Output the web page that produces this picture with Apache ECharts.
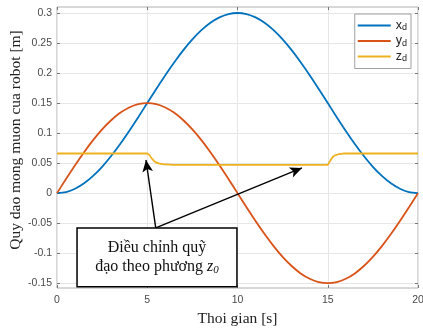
<!DOCTYPE html>
<html><head><meta charset="utf-8">
<script src="https://cdn.jsdelivr.net/npm/echarts@6/dist/echarts.min.js"></script>
<style>html,body{margin:0;padding:0;background:#fff}#c{width:423px;height:329px}</style>
</head><body><div id="c"></div>
<script>
// time samples (s)
const tValues = [0,0.5,1,1.5,2,2.5,3,3.5,4,4.5,5,5.5,6,6.5,7,7.5,8,8.5,9,9.5,10,10.5,11,11.5,12,12.5,13,13.5,14,14.5,15,15.5,16,16.5,17,17.5,18,18.5,19,19.5,20];
const xdValues = [0,0.0018,0.0073,0.0163,0.0286,0.0439,0.0618,0.0819,0.1036,0.1265,0.15,0.1735,0.1964,0.2181,0.2382,0.2561,0.2714,0.2837,0.2927,0.2982,0.3,0.2982,0.2927,0.2837,0.2714,0.2561,0.2382,0.2181,0.1964,0.1735,0.15,0.1265,0.1036,0.0819,0.0618,0.0439,0.0286,0.0163,0.0073,0.0018,0];
const ydValues = [0,0.0235,0.0464,0.0681,0.0882,0.1061,0.1214,0.1337,0.1427,0.1482,0.15,0.1482,0.1427,0.1337,0.1214,0.1061,0.0882,0.0681,0.0464,0.0235,0,-0.0235,-0.0464,-0.0681,-0.0882,-0.1061,-0.1214,-0.1337,-0.1427,-0.1482,-0.15,-0.1482,-0.1427,-0.1337,-0.1214,-0.1061,-0.0882,-0.0681,-0.0464,-0.0235,0];
const zdTimes  = [0,5,5.1,5.2,5.3,5.4,5.5,5.7,6,6.5,15,15.1,15.2,15.3,15.4,15.6,15.9,20];
const zdValues = [0.066,0.066,0.064,0.060,0.056,0.053,0.051,0.049,0.0478,0.047,0.047,0.052,0.057,0.061,0.063,0.065,0.066,0.066];
const seriesNames = ['x_d','y_d','z_d'];
const xTicks = [0,5,10,15,20];
const yTicks = [-0.15,-0.1,-0.05,0,0.05,0.1,0.15,0.2,0.25,0.3];
const xTitle = 'Thoi gian [s]';
const yTitle = 'Quy dao mong muon cua robot [m]';
// annotation (data coordinates)
const arrowStart = [5.47,-0.058];
const arrowTips = [[4.93,0.0552],[13.57,0.0419]];
const boxCorners = [[1.11,-0.058],[9.97,-0.1558]];

const colors = ['#0072BD','#D95319','#EDB120'];
const pair = (ts, vs) => ts.map((t,i)=>[t,vs[i]]);

const chart = echarts.init(document.getElementById('c'), null, {renderer:'canvas'});
const tickFont = {fontFamily:'Liberation Sans', fontSize:10.5, color:'#4a4a4a'};
const frameColor = '#b0b0b0';
const tickStyle = {show:true, inside:true, length:3, lineStyle:{color:'#777'}};
chart.setOption({
  animation:false,
  backgroundColor:'#fff',
  grid:{left:57, right:5, top:7, bottom:41, show:true, borderColor:frameColor, borderWidth:1, outerBoundsMode:'none', containLabel:false},
  legend:{
    orient:'vertical', right:12, top:14, padding:[5,4,5,3], itemGap:2,
    itemWidth:33, itemHeight:2, icon:'rect',
    borderColor:'#a0a0a0', borderWidth:1, backgroundColor:'#fff',
    data:seriesNames,
    formatter: n => '{b|'+n.split('_')[0]+'}{s|'+n.split('_')[1]+'}',
    textStyle:{rich:{
      b:{fontFamily:'Liberation Sans', fontSize:12.5, color:'#222'},
      s:{fontFamily:'Liberation Sans', fontSize:9, color:'#222', padding:[5,0,0,0]}
    }}
  },
  xAxis:[{
    type:'value', min:0, max:20, interval:5,
    name:xTitle, nameLocation:'middle', nameGap:21,
    nameTextStyle:{fontFamily:'Liberation Serif', fontSize:15.5, color:'#222'},
    axisLine:{show:false, onZero:false}, axisTick:tickStyle,
    axisLabel:Object.assign({margin:7}, tickFont),
    splitLine:{show:true, lineStyle:{color:'#e6e6e6', width:1}}
  },{
    type:'value', position:'top', min:0, max:20, interval:5,
    axisLine:{show:false, onZero:false}, axisTick:tickStyle,
    axisLabel:{show:false}, splitLine:{show:false}
  }],
  yAxis:[{
    type:'value', min:-0.158, max:0.31,
    axisLine:{show:false, onZero:false},
    axisTick:Object.assign({customValues:yTicks}, tickStyle),
    axisLabel:Object.assign({margin:5, customValues:yTicks, formatter:v=>String(+(+v).toFixed(2))}, tickFont),
    splitLine:{show:true, lineStyle:{color:'#e6e6e6', width:1}}
  },{
    type:'value', position:'right', min:-0.158, max:0.31,
    axisLine:{show:false, onZero:false},
    axisTick:Object.assign({customValues:yTicks}, tickStyle),
    axisLabel:{show:false}, splitLine:{show:false}
  }],
  series:[
    {name:'x_d', type:'line', data:pair(tValues,xdValues), smooth:0.3, showSymbol:false, symbol:'none', color:colors[0], lineStyle:{width:1.8}},
    {name:'y_d', type:'line', data:pair(tValues,ydValues), smooth:0.3, showSymbol:false, symbol:'none', color:colors[1], lineStyle:{width:1.8}},
    {name:'z_d', type:'line', data:pair(zdTimes,zdValues), smooth:0.3, smoothMonotone:'x', showSymbol:false, symbol:'none', color:colors[2], lineStyle:{width:1.8},
      markLine:{silent:true, symbol:['none','arrow'], symbolSize:[8,12], label:{show:false},
        lineStyle:{color:'#000', width:1.4, type:'solid'},
        data: arrowTips.map(tip=>[{coord:arrowStart},{coord:tip}])}
    }
  ]
});

const p1 = chart.convertToPixel({xAxisIndex:0, yAxisIndex:0}, boxCorners[0]);
const p2 = chart.convertToPixel({xAxisIndex:0, yAxisIndex:0}, boxCorners[1]);
const bx = p1[0], by = p1[1], bw = p2[0]-p1[0], bh = p2[1]-p1[1];
chart.setOption({graphic:[
  {type:'text', x:16, y:140, rotation:Math.PI/2, style:{
    text:yTitle, align:'center', verticalAlign:'middle',
    font:'15.5px "Liberation Serif"', fill:'#222'}},
  {type:'rect', shape:{x:bx, y:by, width:bw, height:bh}, style:{fill:'#fff', stroke:'#000', lineWidth:1.5}, z:100},
  {type:'text', x:bx+bw/2, y:by+bh/2, z:101, style:{
    text:'{t|Điều chỉnh quỹ}\n{t|đạo theo phương }{i|z}{s|0}',
    align:'center', verticalAlign:'middle',
    rich:{
      t:{fontFamily:'Liberation Serif', fontSize:16, lineHeight:19, fill:'#111'},
      i:{fontFamily:'Liberation Serif', fontStyle:'italic', fontSize:16, lineHeight:19, fill:'#111'},
      s:{fontFamily:'Liberation Serif', fontStyle:'italic', fontSize:11, lineHeight:19, padding:[6,0,0,0], fill:'#111'}
    }}}
]});
</script></body></html>
